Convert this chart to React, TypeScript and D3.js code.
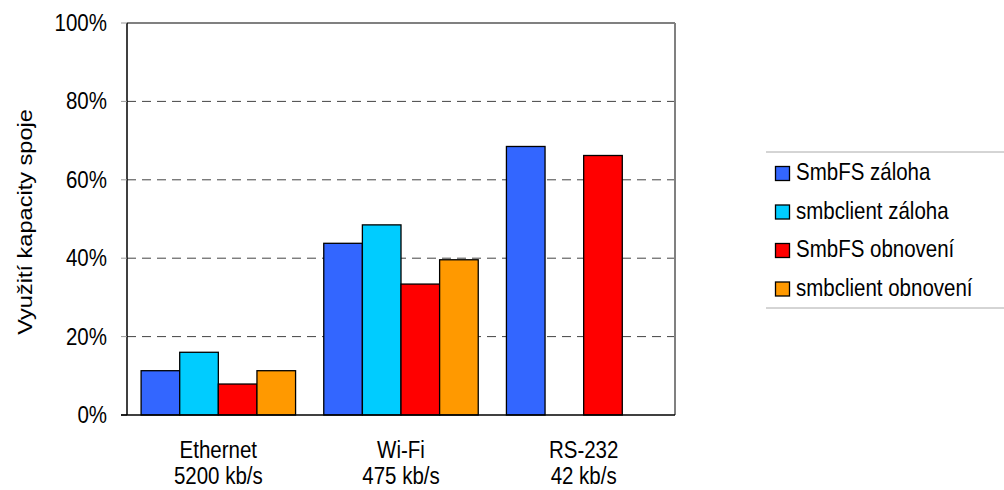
import React from "react";
import * as d3 from "d3";

const categories = ["Ethernet", "Wi-Fi", "RS-232"];
const categorySub = ["5200 kb/s", "475 kb/s", "42 kb/s"];
const seriesNames = ["SmbFS záloha", "smbclient záloha", "SmbFS obnovení", "smbclient obnovení"];
const seriesColors = ["#3366FF", "#00CCFF", "#FF0000", "#FF9900"];
const smbfsZaloha = [11.3, 43.8, 68.5];
const smbclientZaloha = [16.0, 48.5, null];
const smbfsObnoveni = [7.9, 33.4, 66.2];
const smbclientObnoveni = [11.3, 39.6, null];
const yTicks = [0, 20, 40, 60, 80, 100];

const seriesValues: (number | null)[][] = [smbfsZaloha, smbclientZaloha, smbfsObnoveni, smbclientObnoveni];

const FS = 20.5;
const SY = 1.15;

function T(props: { x: number; y: number; anchor?: string; children: React.ReactNode; rotate?: boolean }) {
  const { x, y, anchor = "start", children, rotate } = props;
  const tr = rotate
    ? `translate(${x},${y}) rotate(-90) scale(${SY},1)`
    : `translate(${x},${y}) scale(1,${SY})`;
  return (
    <text transform={tr} textAnchor={anchor as any} fontSize={FS} fill="#000">{children}</text>
  );
}

export default function App() {
  const W = 1004, H = 490;
  const left = 127, right = 675, top = 23, bottom = 415;
  const font = "'Liberation Sans', Arial, sans-serif";
  const x0 = d3.scaleBand<string>().domain(categories).range([left, right]).paddingInner(0).paddingOuter(0);
  const x1 = d3.scaleBand<string>().domain(seriesNames).range([0, x0.bandwidth()]).paddingInner(0).paddingOuter(0.365);
  const y = d3.scaleLinear().domain([0, 100]).range([bottom, top]);

  return (
    <svg width={W} height={H} style={{ position: "absolute", left: 0, top: 0 }} fontFamily={font}>
      <rect x={0} y={0} width={W} height={H} fill="#fff" />
      {yTicks.filter(t => t > 0 && t < 100).map(t => (
        <line key={t} x1={left} x2={right} y1={y(t)} y2={y(t)} stroke="#444" strokeWidth={1} strokeDasharray="9,6" />
      ))}
      <line x1={left} x2={right} y1={y(100)} y2={y(100)} stroke="#808080" strokeWidth={2} />
      <line x1={right} x2={right} y1={y(100)} y2={bottom} stroke="#808080" strokeWidth={2} />
      {seriesValues.map((vals, si) => (
        <g key={si}>
          {vals.map((v, ci) => v == null ? null : (
            <rect key={ci}
              x={(x0(categories[ci]) as number) + (x1(seriesNames[si]) as number)}
              y={y(v)}
              width={x1.bandwidth()}
              height={bottom - y(v)}
              fill={seriesColors[si]} stroke="#000" strokeWidth={1.3} />
          ))}
        </g>
      ))}
      <line x1={left} x2={left} y1={y(100)} y2={bottom} stroke="#000" strokeWidth={1.5} />
      <line x1={left - 6} x2={right} y1={bottom} y2={bottom} stroke="#000" strokeWidth={1.5} />
      {yTicks.map(t => (
        <g key={t}>
          <line x1={left - 6} x2={left} y1={y(t)} y2={y(t)} stroke={t === 0 ? "#000" : "#999"} strokeWidth={1} />
          <T x={107} y={y(t) + 8} anchor="end">{t}%</T>
        </g>
      ))}
      {categories.map((c, i) => {
        const cx = (x0(c) as number) + x0.bandwidth() / 2;
        return (
          <g key={c}>
            <T x={cx} y={458} anchor="middle">{c}</T>
            <T x={cx} y={484} anchor="middle">{categorySub[i]}</T>
          </g>
        );
      })}
      <T x={32} y={(top + bottom) / 2 + 3} anchor="middle" rotate>Využití kapacity spoje</T>
      <line x1={766} x2={W} y1={152} y2={152} stroke="#aaa" strokeWidth={1} />
      <line x1={766} x2={W} y1={308} y2={308} stroke="#aaa" strokeWidth={1} />
      {seriesNames.map((s, i) => {
        const cy = 172 + i * 38.5;
        return (
          <g key={s}>
            <rect x={775.5} y={cy - 5.5} width={14} height={14} fill={seriesColors[i]} stroke="#000" strokeWidth={1.3} />
            <T x={796} y={cy + 8}>{s}</T>
          </g>
        );
      })}
    </svg>
  );
}
